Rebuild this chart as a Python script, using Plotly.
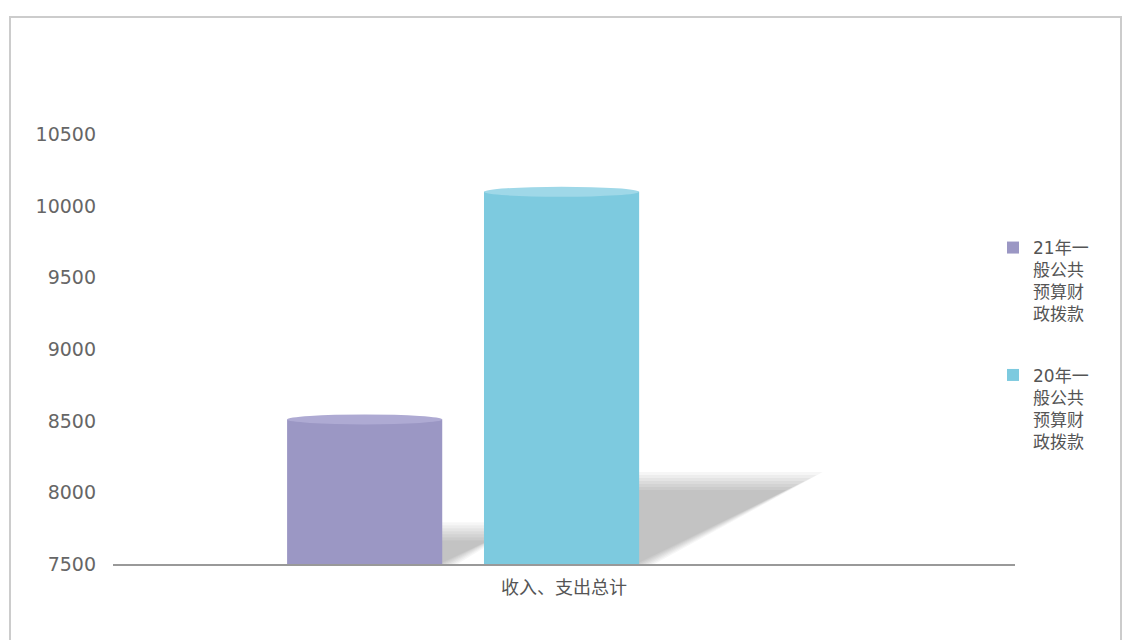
import plotly.graph_objects as go

# Budget appropriation totals (万元)
categories = ["收入、支出总计"]
series_names = ["21年一<br>般公共<br>预算财<br>政拨款", "20年一<br>般公共<br>预算财<br>政拨款"]
values_2021 = [8510]
values_2020 = [10100]
y_ticks = [7500, 8000, 8500, 9000, 9500, 10000, 10500]
y_tick_labels = ["7500", "8000", "8500", "9000", "9500", "10000", "10500"]

colors = ["#9b97c4", "#7dcadf"]
top_colors = ["#aeaad3", "#9fd8e8"]

Y_MIN, Y_MAX = 7500, 11000
M_L, M_R, M_T, M_B = 113, 107, 63, 76
W, H = 1122, 640
plot_w = W - M_L - M_R
plot_h = H - M_T - M_B
units_per_px_y = (Y_MAX - Y_MIN) / plot_h
units_per_px_x = 1.0 / plot_w

bar_width = 0.172
offsets = [-0.307, -0.0887]

fig = go.Figure()
all_values = [values_2021, values_2020]
for i, (name, vals) in enumerate(zip(series_names, all_values)):
    fig.add_trace(go.Bar(
        x=categories, y=vals, name=name,
        width=bar_width, offset=offsets[i],
        marker=dict(color=colors[i], line=dict(width=0)),
        legendgroup=f"g{i}",
        hoverinfo="y",
    ))

shapes = []
# soft cast shadows behind each cylinder, built from stacked translucent layers
for i, vals in enumerate(all_values):
    v = vals[0]
    xr = offsets[i] + bar_width
    h = (v - Y_MIN) * 0.22
    h_px = h / units_per_px_y
    dx = h_px * 2.0 * units_per_px_x
    for grow in [10, 7, 4, 1, -2, -5, -8]:
        gx = grow * units_per_px_x
        gy = grow * units_per_px_y
        path = (f"M{xr - 0.01},{Y_MIN} L{xr - 0.01},{Y_MIN + h + gy} "
                f"L{xr + dx + gx * 2},{Y_MIN + h + gy} "
                f"L{xr + 0.006 + gx},{Y_MIN} Z")
        shapes.append(dict(type="path", path=path, xref="x", yref="y",
                           fillcolor="rgba(0,0,0,0.034)", line=dict(width=0),
                           layer="below"))

# elliptical caps on top of each cylinder
for i, vals in enumerate(all_values):
    shapes.append(dict(
        type="circle", xref="x", yref="y",
        x0=offsets[i], x1=offsets[i] + bar_width,
        ysizemode="pixel", yanchor=vals[0], y0=-5, y1=5,
        fillcolor=top_colors[i], line=dict(width=0), layer="above",
    ))

# outer frame
def px_x(p):
    return (p - M_L) / plot_w

def px_y(p):
    return (H - M_B - p) / plot_h

shapes.append(dict(type="rect", xref="paper", yref="paper",
                   x0=px_x(10), x1=px_x(1121), y0=px_y(660), y1=px_y(17),
                   line=dict(color="#cccccc", width=2), fillcolor="rgba(0,0,0,0)",
                   layer="below"))

fig.update_layout(
    width=W, height=H,
    margin=dict(l=M_L, r=M_R, t=M_T, b=M_B),
    paper_bgcolor="white", plot_bgcolor="white",
    barmode="overlay",
    shapes=shapes,
    font=dict(family="DejaVu Sans, Noto Sans CJK SC, sans-serif", color="#666666"),
    showlegend=True,
    legend=dict(
        x=px_x(993), xanchor="left",
        y=px_y(230), yanchor="top",
        font=dict(size=17, color="#555555",
                  family="DejaVu Sans, Noto Sans CJK SC, sans-serif"),
        tracegroupgap=36, valign="top",
        bgcolor="rgba(0,0,0,0)",
    ),
    xaxis=dict(
        range=[-0.5, 0.5], showgrid=False, zeroline=False,
        showline=True, linecolor="#999999", linewidth=2,
        ticks="", tickfont=dict(size=18, color="#555555",
                                family="Noto Sans CJK SC, sans-serif"),
        ticklabelstandoff=6,
    ),
    yaxis=dict(
        range=[Y_MIN, Y_MAX], tickvals=y_ticks, ticktext=y_tick_labels,
        showgrid=False, zeroline=False, showline=False,
        ticks="", tickfont=dict(size=19, color="#666666"),
        ticklabelstandoff=16,
    ),
)

fig.write_html("out.html")
